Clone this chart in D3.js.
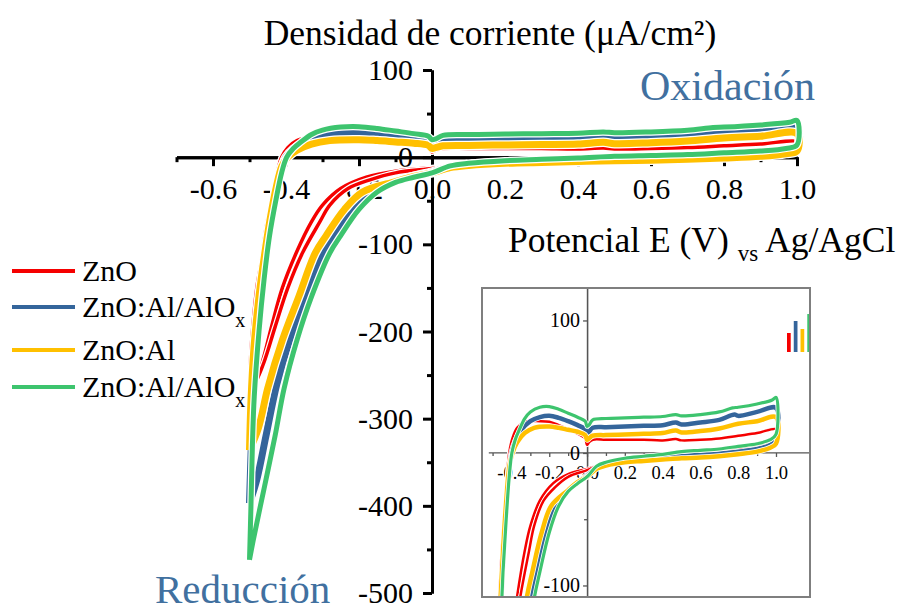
<!DOCTYPE html>
<html>
<head>
<meta charset="utf-8">
<script src="https://cdn.jsdelivr.net/npm/d3@7"></script>
<style>
  body { margin: 0; background: #fff; }
  svg { display: block; }
  text { font-family: "Liberation Serif", serif; }
</style>
</head>
<body>
<svg id="chart" width="901" height="613"></svg>
<script>
// series in legend order
let seriesNames = ['ZnO', 'ZnO:Al/AlOx', 'ZnO:Al', 'ZnO:Al/AlOx']
let seriesColors = ['#f50000', '#34659b', '#ffc000', '#3dc46e']

// potential (V) , current density (uA/cm2)
let znoAnodic = [[-0.5,-270],[-0.497,-230],[-0.49,-190],[-0.48,-150],[-0.467,-118],[-0.455,-82],[-0.44,-50],[-0.425,-20],[-0.412,0],[-0.395,11],[-0.37,19],[-0.33,23.5],[-0.25,24],[-0.2,23.5],[-0.15,21],[-0.1,18],[-0.05,14.5],[-0.01,11],[0,6],[0.01,8],[0.03,10],[0.1,10],[0.2,10],[0.3,10],[0.4,9.5],[0.47,10.5],[0.5,9.5],[0.6,10],[0.7,11],[0.8,13],[0.9,15],[1.0,18]]
let znoCathodic1 = [[1.0,12],[0.97,8],[0.9,5],[0.8,3],[0.7,1.5],[0.6,0.5],[0.5,-0.5],[0.4,-2],[0.3,-3.5],[0.2,-5.5],[0.1,-8],[0.05,-10],[0,-12],[-0.1,-16],[-0.18,-23],[-0.25,-36],[-0.3,-55],[-0.33,-74],[-0.37,-108],[-0.41,-150],[-0.44,-195],[-0.465,-235],[-0.49,-262],[-0.5,-270]]
let znoCathodic2 = [[1.0,14],[0.97,10],[0.9,7],[0.8,5],[0.7,3],[0.6,1.5],[0.5,0],[0.4,-1.5],[0.3,-3],[0.2,-5],[0.1,-8],[0.05,-10],[0,-13],[-0.1,-18],[-0.17,-26],[-0.23,-36],[-0.28,-55],[-0.307,-74],[-0.355,-110],[-0.395,-150],[-0.43,-195],[-0.46,-235],[-0.485,-260],[-0.5,-270]]

let azoAloxAnodic = [[-0.5,-397],[-0.495,-330],[-0.49,-270],[-0.477,-200],[-0.463,-140],[-0.447,-90],[-0.432,-50],[-0.416,-18],[-0.4,0],[-0.38,9],[-0.35,17],[-0.3,24],[-0.25,27],[-0.2,28],[-0.15,26.5],[-0.1,24],[-0.05,21],[-0.01,18],[0,15],[0.01,16],[0.03,19],[0.1,19.5],[0.2,20],[0.3,20.5],[0.4,21],[0.47,23],[0.5,21.5],[0.6,23],[0.7,25],[0.78,29],[0.8,28],[0.9,31],[1.0,34]]
let azoAloxCathodic = [[1.0,10],[0.97,6],[0.9,3],[0.8,1],[0.7,-0.5],[0.6,-1.5],[0.5,-2.5],[0.4,-3.5],[0.3,-4.5],[0.2,-6],[0.1,-8.5],[0.05,-11],[0,-17],[-0.05,-22],[-0.1,-28],[-0.17,-40],[-0.22,-60],[-0.265,-90],[-0.298,-110],[-0.345,-160],[-0.39,-210],[-0.425,-260],[-0.455,-320],[-0.48,-370],[-0.5,-397]]

let azoAnodic = [[-0.5,-336],[-0.496,-280],[-0.488,-220],[-0.474,-160],[-0.458,-110],[-0.443,-70],[-0.427,-35],[-0.411,-10],[-0.395,0],[-0.37,8],[-0.33,15],[-0.28,19],[-0.2,20],[-0.15,19],[-0.1,17.5],[-0.05,16],[-0.01,13.5],[0,10],[0.01,11],[0.03,13],[0.1,13.5],[0.2,14],[0.3,14.5],[0.4,15],[0.47,17],[0.5,15.5],[0.6,16.5],[0.7,18.5],[0.8,22],[0.9,24],[1.0,27]]
let azoCathodic = [[1.0,7],[0.97,4],[0.9,1],[0.8,-1],[0.7,-2.5],[0.6,-3.5],[0.5,-4],[0.4,-5],[0.3,-6],[0.2,-7],[0.1,-9.5],[0.05,-12],[0,-18],[-0.05,-22],[-0.1,-28],[-0.19,-40],[-0.24,-60],[-0.29,-90],[-0.32,-110],[-0.365,-160],[-0.41,-210],[-0.45,-265],[-0.475,-310],[-0.5,-336]]

let azoAlox2Anodic = [[-0.5,-462],[-0.496,-400],[-0.492,-330],[-0.487,-275],[-0.474,-200],[-0.46,-140],[-0.445,-90],[-0.428,-50],[-0.412,-18],[-0.398,0],[-0.38,10],[-0.36,17],[-0.33,26],[-0.3,31],[-0.25,34.5],[-0.2,35],[-0.15,33],[-0.1,30],[-0.05,27],[-0.01,24],[0,20],[0.01,21],[0.03,25],[0.1,26],[0.2,26.5],[0.3,27],[0.4,27.5],[0.47,29],[0.5,28],[0.6,29],[0.7,31],[0.77,34],[0.8,34.5],[0.9,37],[0.98,40],[1.0,42]]
let azoAlox2Cathodic = [[1.0,14],[0.97,10],[0.9,7],[0.8,5],[0.7,3],[0.6,2],[0.5,1],[0.4,-1],[0.3,-2.5],[0.2,-4],[0.1,-7],[0.05,-10],[0,-18],[-0.05,-23],[-0.1,-29],[-0.15,-40],[-0.2,-60],[-0.25,-90],[-0.28,-110],[-0.33,-160],[-0.37,-210],[-0.405,-265],[-0.43,-320],[-0.46,-380],[-0.49,-440],[-0.5,-462]]

// loops to draw, in drawing order (series index, points)
let loops = [
  [0, znoAnodic.concat(znoCathodic1)],
  [0, znoAnodic.concat(znoCathodic2)],
  [1, azoAloxAnodic.concat(azoAloxCathodic)],
  [2, azoAnodic.concat(azoCathodic)],
  [3, azoAlox2Anodic.concat(azoAlox2Cathodic)]
]

let xTicks = [-0.6, -0.4, -0.2, 0.0, 0.2, 0.4, 0.6, 0.8, 1.0]
let xMinor = [-0.7, -0.5, -0.3, -0.1, 0.1, 0.3, 0.5, 0.7, 0.9]
let yTicks = [100, 0, -100, -200, -300, -400, -500]
let yMinor = [50, -50, -150, -250, -350, -450]

let insetXTicks = [-0.4, -0.2, 0.0, 0.2, 0.4, 0.6, 0.8, 1.0]
let insetXMinor = [-0.5, -0.3, -0.1, 0.1, 0.3, 0.5, 0.7, 0.9]
let insetYTicks = [100, 0, -100]
let insetYMinor = [50, -50]
let iconHeights = [19, 31, 23, 38]

let mainWidths = [3.5, 7, 7, 5]
let insetWidths = [2.5, 4.5, 4.5, 3.2]

let serif = '"Liberation Serif", serif'
let svg = d3.select('#chart').attr('font-family', serif)

// ---- main chart ----
let xScale = d3.scaleLinear().domain([-0.7, 1.0]).range([176.5, 797])
let yScale = d3.scaleLinear().domain([-500, 100]).range([593, 70])

let xAxis = d3.axisBottom(xScale).tickValues(xTicks).tickFormat(d => d.toFixed(1))
  .tickSize(9).tickSizeOuter(0).tickPadding(12)
let xAxisMinor = d3.axisBottom(xScale).tickValues(xMinor).tickFormat('').tickSize(5).tickSizeOuter(0)
let yAxis = d3.axisLeft(yScale).tickValues(yTicks).tickFormat(d => d)
  .tickSize(9).tickSizeOuter(0).tickPadding(10)
let yAxisMinor = d3.axisLeft(yScale).tickValues(yMinor).tickFormat('').tickSize(5).tickSizeOuter(0)

let styleAxis = (g, w, fs, col) => {
  g.attr('font-family', serif).attr('font-size', fs)
  g.select('.domain').attr('stroke', col).attr('stroke-width', w)
  g.selectAll('.tick line').attr('stroke', col).attr('stroke-width', w)
  g.selectAll('.tick text').attr('fill', '#000')
}

svg.append('g').attr('transform', 'translate(0,' + yScale(0) + ')').call(xAxisMinor).call(g => styleAxis(g, 3, 30, '#000'))
svg.append('g').attr('transform', 'translate(0,' + yScale(0) + ')').call(xAxis).call(g => styleAxis(g, 3, 30, '#000'))
svg.append('g').attr('transform', 'translate(' + xScale(0) + ',0)').call(yAxisMinor).call(g => styleAxis(g, 3, 30, '#000'))
svg.append('g').attr('transform', 'translate(' + xScale(0) + ',0)').call(yAxis).call(g => styleAxis(g, 3, 30, '#000'))

let mainLine = d3.line()
  .x(d => xScale(d[0]))
  .y(d => yScale(d[1]))
  .curve(d3.curveCatmullRom.alpha(0.5))

let curves = svg.append('g')
loops.forEach(([i, pts]) => {
  curves.append('path').attr('d', mainLine(pts)).attr('fill', 'none')
    .attr('stroke', '#fff').attr('stroke-width', mainWidths[i] + 2.5).attr('stroke-linejoin', 'round')
  curves.append('path').attr('d', mainLine(pts)).attr('fill', 'none')
    .attr('stroke', seriesColors[i]).attr('stroke-width', mainWidths[i]).attr('stroke-linejoin', 'round')
})

// titles
svg.append('text').attr('x', 490).attr('y', 45).attr('text-anchor', 'middle')
  .attr('font-family', serif).attr('font-size', 35.5).text('Densidad de corriente (μA/cm²)')

let xLabel = svg.append('text').attr('x', 508).attr('y', 252).attr('font-family', serif).attr('font-size', 35.5)
xLabel.append('tspan').text('Potencial E (V) ')
xLabel.append('tspan').attr('dy', 9).attr('font-size', 23).text('vs')
xLabel.append('tspan').attr('dy', -9).text(' Ag/AgCl')

svg.append('text').attr('x', 640).attr('y', 100).attr('fill', '#41709f')
  .attr('font-family', serif).attr('font-size', 42).text('Oxidación')
svg.append('text').attr('x', 155).attr('y', 603).attr('fill', '#41709f')
  .attr('font-family', serif).attr('font-size', 41).text('Reducción')

// legend
let legendY = [271, 307, 350, 387]
seriesNames.forEach((name, i) => {
  let g = svg.append('g').attr('transform', 'translate(0,' + legendY[i] + ')')
  g.append('line').attr('x1', 12).attr('x2', 75).attr('stroke', seriesColors[i]).attr('stroke-width', 4)
  let t = g.append('text').attr('x', 82).attr('y', 10).attr('font-family', serif).attr('font-size', 30)
  if (name.endsWith('AlOx')) {
    t.append('tspan').text(name.slice(0, -1))
    t.append('tspan').attr('dy', 10).attr('font-size', 20).text('x')
  } else {
    t.text(name)
  }
})

// ---- inset ----
let insetX = d3.scaleLinear().domain([-0.556, 1.18]).range([482, 810])
let insetY = d3.scaleLinear().domain([-108.7, 124.5]).range([597, 288])

svg.append('clipPath').attr('id', 'insetClip')
  .append('rect').attr('x', 482).attr('y', 288).attr('width', 328).attr('height', 309)

let inset = svg.append('g')
inset.append('rect').attr('x', 482).attr('y', 288).attr('width', 328).attr('height', 309)
  .attr('fill', '#fff')

let ixAxis = d3.axisBottom(insetX).tickValues(insetXTicks).tickFormat(d => d.toFixed(1))
  .tickSize(4).tickSizeOuter(0).tickPadding(9)
let ixMinor = d3.axisBottom(insetX).tickValues(insetXMinor).tickFormat('').tickSize(3).tickSizeOuter(0)
let iyAxis = d3.axisLeft(insetY).tickValues(insetYTicks).tickFormat(d => d)
  .tickSize(4).tickSizeOuter(0).tickPadding(3)
let iyMinor = d3.axisLeft(insetY).tickValues(insetYMinor).tickFormat('').tickSize(3).tickSizeOuter(0)

let ixG = inset.append('g').attr('transform', 'translate(0,' + insetY(0) + ')')
ixG.append('line').attr('x1', insetX(-0.52)).attr('x2', 810).attr('stroke', '#555').attr('stroke-width', 1.3)
ixG.append('g').call(ixMinor).call(g => styleAxis(g, 1.3, 18.5, '#555')).select('.domain').remove()
ixG.append('g').call(ixAxis).call(g => styleAxis(g, 1.3, 18.5, '#555')).select('.domain').remove()

let iyG = inset.append('g').attr('transform', 'translate(' + insetX(0) + ',0)')
iyG.append('g').call(iyMinor).call(g => styleAxis(g, 1.3, 20, '#555'))
iyG.append('g').call(iyAxis).call(g => styleAxis(g, 1.3, 20, '#555'))

let insetLine = d3.line()
  .x(d => insetX(d[0]))
  .y(d => insetY(d[1]))
  .curve(d3.curveCatmullRom.alpha(0.5))

let insetCurves = inset.append('g').attr('clip-path', 'url(#insetClip)')
loops.forEach(([i, pts]) => {
  insetCurves.append('path').attr('d', insetLine(pts)).attr('fill', 'none')
    .attr('stroke', '#fff').attr('stroke-width', insetWidths[i] + 1.5).attr('stroke-linejoin', 'round')
  insetCurves.append('path').attr('d', insetLine(pts)).attr('fill', 'none')
    .attr('stroke', seriesColors[i]).attr('stroke-width', insetWidths[i]).attr('stroke-linejoin', 'round')
})

// small bar icon in the inset corner
let iconX = d3.scaleBand().domain(d3.range(iconHeights.length)).range([787, 811]).paddingInner(0.45)
let iconY = d3.scaleLinear().domain([0, 38]).range([352, 314])
inset.append('g').selectAll('rect').data(iconHeights).enter().append('rect')
  .attr('x', (d, i) => iconX(i))
  .attr('width', iconX.bandwidth())
  .attr('y', d => iconY(d))
  .attr('height', d => iconY(0) - iconY(d))
  .attr('fill', (d, i) => seriesColors[i])

inset.append('rect').attr('x', 482).attr('y', 288).attr('width', 328).attr('height', 309)
  .attr('fill', 'none').attr('stroke', '#7f7f7f').attr('stroke-width', 2)
</script>
</body>
</html>
